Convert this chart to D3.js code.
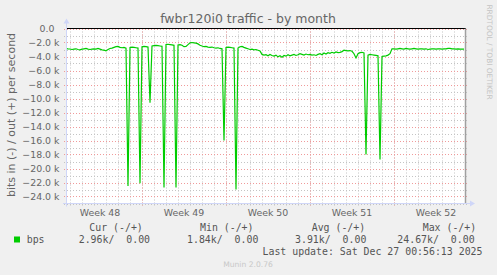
<!DOCTYPE html>
<html>
<head>
<meta charset="utf-8">
<script src="https://cdn.jsdelivr.net/npm/d3@7"></script>
<style>
  html, body { margin: 0; padding: 0; background: #f0f0f0; }
  svg { display: block; }
</style>
</head>
<body>
<svg id="chart" width="497" height="275"></svg>
<script>
// munin month graph, in (-) values in kbit/s, one value every 4 hours
var startTime = Date.UTC(2025, 10, 24, 16);
var endTime = Date.UTC(2025, 11, 28, 0);
var stepHours = 4;
var inKbps = [
  2.86, 2.9, 2.93, 3.0, 2.95, 2.9, 3.0, 3.05, 2.95, 2.9,
  2.85, 2.95, 3.0, 2.95, 2.9, 2.95, 2.85, 2.95, 3.05, 3.1,
  3.2, 3.0, 2.85, 2.8, 2.7, 2.6, 2.55, 2.7, 2.75, 2.7,
  2.8, 22.5, 2.7, 2.65, 2.7, 2.75, 2.8, 22.1, 2.6, 2.55,
  2.6, 2.65, 10.6, 2.5, 2.45, 2.4, 2.45, 2.5, 2.55, 22.7,
  2.3, 2.25, 2.3, 2.35, 2.4, 22.7, 2.35, 2.3, 2.4, 2.6,
  2.55, 2.3, 2.05, 2.0, 2.05, 2.1, 2.2, 2.4, 2.5, 2.6,
  2.55, 2.65, 2.7, 2.65, 2.75, 2.8, 2.75, 2.85, 2.9, 16.0,
  2.7, 2.65, 2.7, 2.75, 2.8, 23.0, 2.8, 2.6, 2.55, 2.7,
  2.8, 2.9, 3.0, 2.95, 3.05, 3.0, 3.1, 3.2, 3.7, 3.8,
  3.75, 3.9, 3.7, 3.85, 3.95, 3.8, 4.05, 3.9, 4.1, 3.85,
  3.95, 3.75, 3.9, 3.8, 3.7, 3.85, 3.75, 3.6, 3.7, 3.8,
  3.65, 3.75, 3.7, 3.8, 3.75, 3.85, 3.7, 3.6, 3.75, 3.5,
  3.65, 3.45, 3.55, 3.4, 3.5, 3.35, 3.45, 3.4, 3.3, 3.1,
  3.15, 3.2, 3.15, 3.25, 3.6, 4.2, 3.6, 3.45, 3.4, 3.5,
  18.0, 3.8, 3.7, 3.75, 3.8, 3.85, 3.9, 18.7, 4.0, 3.95,
  3.9, 3.8, 3.6, 2.9, 2.9, 2.95, 2.9, 2.85, 2.9, 2.95,
  2.85, 2.9, 2.95, 2.9, 2.85, 2.9, 2.95, 2.9, 2.9, 2.95,
  2.9, 3.0, 2.95, 2.9, 2.9, 2.95, 2.9, 2.9, 2.95, 2.9,
  2.9, 2.85, 2.85, 2.9, 2.9, 2.95, 2.9, 2.95, 2.95, 2.96
];
var yMajorTicks = [0, -2000, -4000, -6000, -8000, -10000, -12000, -14000, -16000, -18000, -20000, -22000, -24000];
var legendHead = ["Cur (-/+)", "Min (-/+)", "Avg (-/+)", "Max (-/+)"];
var legendVals = ["2.96k/  0.00", "1.84k/  0.00", "3.91k/  0.00", "24.67k/  0.00"];
var seriesName = "bps";
var lastUpdate = "Last update: Sat Dec 27 00:56:13 2025";

(function () {
    var svg = d3.select("#chart");
    var pLeft = 66, pRight = 466, pTop = 28.5, pBottom = 203.5;

    var x = d3.scaleTime().domain([startTime, endTime]).range([pLeft, pRight]);
    var y = d3.scaleLinear().domain([-25000, 0]).range([pBottom, pTop]);

    // canvas
    svg.append("rect").attr("x", pLeft).attr("y", pTop)
        .attr("width", pRight - pLeft).attr("height", pBottom - pTop).attr("fill", "#fff");

    // minor grid
    var days = d3.utcDay.range(startTime, endTime);
    svg.append("g").selectAll("line").data(days).enter().append("line")
        .attr("x1", d => Math.round(x(d)) + 0.5).attr("x2", d => Math.round(x(d)) + 0.5)
        .attr("y1", pTop).attr("y2", pBottom + 2.5)
        .attr("stroke", "#c4c4c4").attr("stroke-dasharray", "1,2");
    var yMinor = d3.range(-1000, -25001, -2000);
    svg.append("g").selectAll("line").data(yMinor).enter().append("line")
        .attr("x1", pLeft - 2).attr("x2", pRight + 2)
        .attr("y1", d => Math.round(y(d)) + 0.5).attr("y2", d => Math.round(y(d)) + 0.5)
        .attr("stroke", "#c4c4c4").attr("stroke-dasharray", "1,2");

    // major grid
    var mondays = d3.utcMonday.range(startTime, endTime);
    svg.append("g").selectAll("line").data(mondays).enter().append("line")
        .attr("x1", d => Math.round(x(d)) + 0.5).attr("x2", d => Math.round(x(d)) + 0.5)
        .attr("y1", pTop).attr("y2", pBottom + 2.5)
        .attr("stroke", "#f09a9a").attr("stroke-dasharray", "1,2");
    svg.append("g").selectAll("line").data(yMajorTicks).enter().append("line")
        .attr("x1", pLeft - 2).attr("x2", pRight + 3)
        .attr("y1", d => Math.round(y(d)) + 0.5).attr("y2", d => Math.round(y(d)) + 0.5)
        .attr("stroke", "#f09a9a").attr("stroke-dasharray", "1,2");

    // y tick labels
    svg.append("g").selectAll("text").data(yMajorTicks).enter().append("text")
        .attr("x", d => d === 0 ? 54.5 : 59.5).attr("y", d => y(d)).attr("dy", "0.35em")
        .attr("text-anchor", "end")
        .style("font", "9.4px 'DejaVu Sans'").attr("fill", "#666")
        .text(d => d === 0 ? "0.0" : d3.format(".1f")(d / 1000) + " k");

    // week labels, centered in the week
    var weekStarts = d3.utcMonday.range(d3.utcMonday.floor(startTime), endTime);
    svg.append("g").selectAll("text").data(weekStarts).enter().append("text")
        .attr("x", d => x(d3.utcHour.offset(d, 84))).attr("y", 215.5)
        .attr("text-anchor", "middle")
        .style("font", "9.4px 'DejaVu Sans'").attr("fill", "#666")
        .text(d => "Week " + d3.utcFormat("%V")(d));

    // series
    var line = d3.line()
        .x((d, i) => x(startTime + i * stepHours * 3600000))
        .y(d => y(-d * 1000));
    svg.append("path").datum(inKbps).attr("d", line)
        .attr("fill", "none").attr("stroke", "#00cc00").attr("stroke-width", 1.2);

    // zero line (out series is 0)
    svg.append("line").attr("x1", pLeft).attr("x2", pRight)
        .attr("y1", pTop).attr("y2", pTop).attr("stroke", "#000").attr("stroke-width", 1);

    // right edge
    svg.append("line").attr("x1", pRight - 0.5).attr("x2", pRight - 0.5)
        .attr("y1", pTop).attr("y2", pBottom).attr("stroke", "#a0a0a0").attr("stroke-width", 1.5);

    // axes with arrows
    var axisCol = "#cfd6f8";
    svg.append("line").attr("x1", pLeft + 0.5).attr("x2", pLeft + 0.5)
        .attr("y1", pBottom + 3).attr("y2", pTop - 6).attr("stroke", axisCol);
    svg.append("path").attr("d", "M" + (pLeft - 2.5) + "," + (pTop - 5) + "L" + (pLeft + 3.5) + "," + (pTop - 5) + "L" + (pLeft + 0.5) + "," + (pTop - 10) + "Z")
        .attr("fill", axisCol);
    svg.append("line").attr("x1", pLeft - 3).attr("x2", pRight + 5)
        .attr("y1", pBottom).attr("y2", pBottom).attr("stroke", axisCol);
    svg.append("path").attr("d", "M" + (pRight + 4) + "," + (pBottom - 3) + "L" + (pRight + 4) + "," + (pBottom + 3) + "L" + (pRight + 9) + "," + pBottom + "Z")
        .attr("fill", axisCol);

    // title
    svg.append("text").attr("x", 248).attr("y", 23).attr("text-anchor", "middle")
        .style("font", "12.5px 'DejaVu Sans'").attr("fill", "#666")
        .text("fwbr120i0 traffic - by month");

    // y unit label
    svg.append("text").attr("transform", "translate(14.5," + ((pTop + pBottom) / 2 - 1) + ") rotate(-90)")
        .attr("text-anchor", "middle")
        .style("font", "11px 'DejaVu Sans'").attr("fill", "#666")
        .text("bits in (-) / out (+) per second");

    // watermark
    svg.append("text").attr("transform", "translate(486.5,52) rotate(90)")
        .attr("text-anchor", "middle")
        .style("font", "7.4px 'DejaVu Sans'").attr("fill", "#c4c4c4")
        .text("RRDTOOL / TOBI OETIKER");

    // legend
    var mono = "9.9px 'DejaVu Sans Mono'";
    var headX = [89.3, 200, 311.7, 422.7];
    var valX = [78.7, 187, 295, 397.3];
    svg.append("g").selectAll("text").data(legendHead).enter().append("text")
        .attr("x", (d, i) => headX[i]).attr("y", 231)
        .style("white-space", "pre")
        .style("font", mono).attr("fill", "#555").text(d => d);
    svg.append("rect").attr("x", 14).attr("y", 236.5).attr("width", 6).attr("height", 6).attr("fill", "#00cc00");
    svg.append("text").attr("x", 26.7).attr("y", 242.5)
        .style("font", mono).attr("fill", "#555").text(seriesName);
    svg.append("g").selectAll("text").data(legendVals).enter().append("text")
        .attr("x", (d, i) => valX[i]).attr("y", 242.5)
        .style("white-space", "pre")
        .style("font", mono).attr("fill", "#555").text(d => d);
    svg.append("text").attr("x", 482.5).attr("y", 255).attr("text-anchor", "end")
        .style("white-space", "pre")
        .style("font", mono).attr("fill", "#555").text(lastUpdate);

    svg.append("text").attr("x", 248).attr("y", 267).attr("text-anchor", "middle")
        .style("font", "7.6px 'DejaVu Sans'").attr("fill", "#c8c8c8")
        .text("Munin 2.0.76");
})();
</script>
</body>
</html>
